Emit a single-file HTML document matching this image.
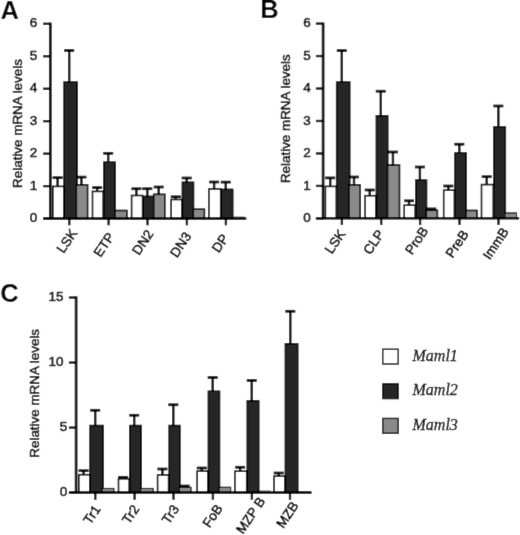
<!DOCTYPE html>
<html><head><meta charset="utf-8"><title>Figure</title>
<style>
html,body{margin:0;padding:0;background:#fff;}
body{width:520px;height:535px;overflow:hidden;font-family:"Liberation Sans",sans-serif;}
svg{display:block;font-family:"Liberation Sans",sans-serif;}
</style></head><body>
<svg width="520" height="535" viewBox="0 0 520 535">
<defs><filter id="soft" x="0" y="0" width="520" height="535" filterUnits="userSpaceOnUse"><feConvolveMatrix order="3" kernelMatrix="0 1 0 1 7 1 0 1 0" divisor="11" edgeMode="duplicate" preserveAlpha="true"/></filter></defs>
<rect x="0" y="0" width="520" height="535" fill="#ffffff"/>
<g filter="url(#soft)">
<rect x="0" y="0" width="520" height="535" fill="#ffffff"/>
<line x1="57.60" y1="186.70" x2="57.60" y2="177.70" stroke="#000000" stroke-width="2.4"/>
<line x1="52.60" y1="177.70" x2="62.60" y2="177.70" stroke="#000000" stroke-width="2.7"/>
<rect x="52.80" y="186.40" width="11.00" height="32.20" fill="#ffffff" stroke="#000000" stroke-width="1.6"/>
<line x1="69.20" y1="81.80" x2="69.20" y2="50.50" stroke="#000000" stroke-width="2.4"/>
<line x1="64.20" y1="50.50" x2="74.20" y2="50.50" stroke="#000000" stroke-width="2.7"/>
<rect x="64.10" y="82.10" width="13.00" height="136.50" fill="#272727" stroke="#000000" stroke-width="1.6"/>
<line x1="81.40" y1="185.10" x2="81.40" y2="177.10" stroke="#000000" stroke-width="2.4"/>
<line x1="76.40" y1="177.10" x2="86.40" y2="177.10" stroke="#000000" stroke-width="2.7"/>
<rect x="76.30" y="184.80" width="11.30" height="33.80" fill="#8a8a8a" stroke="#000000" stroke-width="1.6"/>
<line x1="97.15" y1="191.70" x2="97.15" y2="187.60" stroke="#000000" stroke-width="2.4"/>
<line x1="92.15" y1="187.60" x2="102.15" y2="187.60" stroke="#000000" stroke-width="2.7"/>
<rect x="92.50" y="191.40" width="10.70" height="27.20" fill="#ffffff" stroke="#000000" stroke-width="1.6"/>
<line x1="108.20" y1="161.90" x2="108.20" y2="153.30" stroke="#000000" stroke-width="2.4"/>
<line x1="103.20" y1="153.30" x2="113.20" y2="153.30" stroke="#000000" stroke-width="2.7"/>
<rect x="103.80" y="162.20" width="11.30" height="56.40" fill="#272727" stroke="#000000" stroke-width="1.6"/>
<rect x="114.90" y="210.50" width="12.00" height="8.10" fill="#8a8a8a" stroke="#000000" stroke-width="1.6"/>
<line x1="136.40" y1="195.80" x2="136.40" y2="188.75" stroke="#000000" stroke-width="2.4"/>
<line x1="131.40" y1="188.75" x2="141.40" y2="188.75" stroke="#000000" stroke-width="2.7"/>
<rect x="131.60" y="195.50" width="11.00" height="23.10" fill="#ffffff" stroke="#000000" stroke-width="1.6"/>
<line x1="147.30" y1="196.10" x2="147.30" y2="188.75" stroke="#000000" stroke-width="2.4"/>
<line x1="142.30" y1="188.75" x2="152.30" y2="188.75" stroke="#000000" stroke-width="2.7"/>
<rect x="143.20" y="196.40" width="10.70" height="22.20" fill="#272727" stroke="#000000" stroke-width="1.6"/>
<line x1="158.70" y1="194.60" x2="158.70" y2="187.00" stroke="#000000" stroke-width="2.4"/>
<line x1="153.70" y1="187.00" x2="163.70" y2="187.00" stroke="#000000" stroke-width="2.7"/>
<rect x="153.70" y="194.30" width="11.10" height="24.30" fill="#8a8a8a" stroke="#000000" stroke-width="1.6"/>
<line x1="175.75" y1="199.80" x2="175.75" y2="196.80" stroke="#000000" stroke-width="2.4"/>
<line x1="170.75" y1="196.80" x2="180.75" y2="196.80" stroke="#000000" stroke-width="2.7"/>
<rect x="171.10" y="199.50" width="10.70" height="19.10" fill="#ffffff" stroke="#000000" stroke-width="1.6"/>
<line x1="186.70" y1="182.00" x2="186.70" y2="178.00" stroke="#000000" stroke-width="2.4"/>
<line x1="181.70" y1="178.00" x2="191.70" y2="178.00" stroke="#000000" stroke-width="2.7"/>
<rect x="182.40" y="182.30" width="11.10" height="36.30" fill="#272727" stroke="#000000" stroke-width="1.6"/>
<rect x="193.30" y="209.20" width="11.10" height="9.40" fill="#8a8a8a" stroke="#000000" stroke-width="1.6"/>
<line x1="214.10" y1="189.25" x2="214.10" y2="182.00" stroke="#000000" stroke-width="2.4"/>
<line x1="209.10" y1="182.00" x2="219.10" y2="182.00" stroke="#000000" stroke-width="2.7"/>
<rect x="208.90" y="188.95" width="11.80" height="29.65" fill="#ffffff" stroke="#000000" stroke-width="1.6"/>
<line x1="225.75" y1="189.10" x2="225.75" y2="182.10" stroke="#000000" stroke-width="2.4"/>
<line x1="220.75" y1="182.10" x2="230.75" y2="182.10" stroke="#000000" stroke-width="2.7"/>
<rect x="221.30" y="189.40" width="11.40" height="29.20" fill="#272727" stroke="#000000" stroke-width="1.6"/>
<rect x="232.25" y="217.25" width="11.70" height="1.35" fill="#8a8a8a" stroke="#000000" stroke-width="1.1"/>
<line x1="50.3" y1="22.58" x2="50.3" y2="219.80" stroke="#000000" stroke-width="2.7"/>
<line x1="43.099999999999994" y1="218.6" x2="245.3" y2="218.6" stroke="#000000" stroke-width="2.5" />
<circle cx="245.3" cy="218.6" r="1.25" fill="#000000"/>
<line x1="43.10" y1="218.60" x2="50.3" y2="218.60" stroke="#000000" stroke-width="2.3"/>
<text x="37.2" y="222.20" text-anchor="end" font-size="13.5" fill="#000000" stroke="#000000" stroke-width="0.5">0</text>
<line x1="43.10" y1="186.13" x2="50.3" y2="186.13" stroke="#000000" stroke-width="2.3"/>
<text x="37.2" y="189.73" text-anchor="end" font-size="13.5" fill="#000000" stroke="#000000" stroke-width="0.5">1</text>
<line x1="43.10" y1="153.66" x2="50.3" y2="153.66" stroke="#000000" stroke-width="2.3"/>
<text x="37.2" y="157.26" text-anchor="end" font-size="13.5" fill="#000000" stroke="#000000" stroke-width="0.5">2</text>
<line x1="43.10" y1="121.19" x2="50.3" y2="121.19" stroke="#000000" stroke-width="2.3"/>
<text x="37.2" y="124.79" text-anchor="end" font-size="13.5" fill="#000000" stroke="#000000" stroke-width="0.5">3</text>
<line x1="43.10" y1="88.72" x2="50.3" y2="88.72" stroke="#000000" stroke-width="2.3"/>
<text x="37.2" y="92.32" text-anchor="end" font-size="13.5" fill="#000000" stroke="#000000" stroke-width="0.5">4</text>
<line x1="43.10" y1="56.25" x2="50.3" y2="56.25" stroke="#000000" stroke-width="2.3"/>
<text x="37.2" y="59.85" text-anchor="end" font-size="13.5" fill="#000000" stroke="#000000" stroke-width="0.5">5</text>
<line x1="43.10" y1="23.78" x2="50.3" y2="23.78" stroke="#000000" stroke-width="2.3"/>
<text x="37.2" y="27.38" text-anchor="end" font-size="13.5" fill="#000000" stroke="#000000" stroke-width="0.5">6</text>
<line x1="69.30" y1="218.6" x2="69.30" y2="225.29999999999998" stroke="#000000" stroke-width="2.3"/>
<text transform="translate(70.58,243.63) rotate(-56.0)" text-anchor="middle" font-size="13.4" fill="#000000" stroke="#000000" stroke-width="0.5">LSK</text>
<line x1="108.60" y1="218.6" x2="108.60" y2="225.29999999999998" stroke="#000000" stroke-width="2.3"/>
<text transform="translate(107.78,247.28) rotate(-56.0)" text-anchor="middle" font-size="13.4" fill="#000000" stroke="#000000" stroke-width="0.5">ETP</text>
<line x1="147.50" y1="218.6" x2="147.50" y2="225.29999999999998" stroke="#000000" stroke-width="2.3"/>
<text transform="translate(146.53,244.93) rotate(-56.0)" text-anchor="middle" font-size="13.4" fill="#000000" stroke="#000000" stroke-width="0.5">DN2</text>
<line x1="186.90" y1="218.6" x2="186.90" y2="225.29999999999998" stroke="#000000" stroke-width="2.3"/>
<text transform="translate(184.43,247.28) rotate(-56.0)" text-anchor="middle" font-size="13.4" fill="#000000" stroke="#000000" stroke-width="0.5">DN3</text>
<line x1="225.90" y1="218.6" x2="225.90" y2="225.29999999999998" stroke="#000000" stroke-width="2.3"/>
<text transform="translate(223.98,245.83) rotate(-56.0)" text-anchor="middle" font-size="13.4" fill="#000000" stroke="#000000" stroke-width="0.5">DP</text>
<text transform="translate(22.2,123.5) rotate(-90)" text-anchor="middle" font-size="13.4" fill="#000000" stroke="#000000" stroke-width="0.5">Relative mRNA levels</text>
<text x="0.5" y="18.6" font-size="25.5" font-weight="bold" fill="#000">A</text>
<line x1="330.20" y1="186.70" x2="330.20" y2="177.90" stroke="#000000" stroke-width="2.4"/>
<line x1="325.20" y1="177.90" x2="335.20" y2="177.90" stroke="#000000" stroke-width="2.7"/>
<rect x="325.40" y="186.40" width="11.00" height="31.90" fill="#ffffff" stroke="#000000" stroke-width="1.6"/>
<line x1="341.80" y1="81.80" x2="341.80" y2="50.60" stroke="#000000" stroke-width="2.4"/>
<line x1="336.80" y1="50.60" x2="346.80" y2="50.60" stroke="#000000" stroke-width="2.7"/>
<rect x="336.70" y="82.10" width="13.00" height="136.20" fill="#272727" stroke="#000000" stroke-width="1.6"/>
<line x1="354.00" y1="185.20" x2="354.00" y2="177.00" stroke="#000000" stroke-width="2.4"/>
<line x1="349.00" y1="177.00" x2="359.00" y2="177.00" stroke="#000000" stroke-width="2.7"/>
<rect x="348.90" y="184.90" width="11.30" height="33.40" fill="#8a8a8a" stroke="#000000" stroke-width="1.6"/>
<line x1="369.75" y1="196.00" x2="369.75" y2="190.00" stroke="#000000" stroke-width="2.4"/>
<line x1="364.75" y1="190.00" x2="374.75" y2="190.00" stroke="#000000" stroke-width="2.7"/>
<rect x="365.10" y="195.70" width="10.70" height="22.60" fill="#ffffff" stroke="#000000" stroke-width="1.6"/>
<line x1="380.80" y1="115.50" x2="380.80" y2="91.20" stroke="#000000" stroke-width="2.4"/>
<line x1="375.80" y1="91.20" x2="385.80" y2="91.20" stroke="#000000" stroke-width="2.7"/>
<rect x="376.40" y="115.80" width="11.30" height="102.50" fill="#272727" stroke="#000000" stroke-width="1.6"/>
<line x1="392.95" y1="165.30" x2="392.95" y2="152.00" stroke="#000000" stroke-width="2.4"/>
<line x1="387.95" y1="152.00" x2="397.95" y2="152.00" stroke="#000000" stroke-width="2.7"/>
<rect x="387.50" y="165.00" width="12.00" height="53.30" fill="#8a8a8a" stroke="#000000" stroke-width="1.6"/>
<line x1="409.00" y1="205.50" x2="409.00" y2="200.80" stroke="#000000" stroke-width="2.4"/>
<line x1="404.00" y1="200.80" x2="414.00" y2="200.80" stroke="#000000" stroke-width="2.7"/>
<rect x="404.20" y="205.20" width="11.00" height="13.10" fill="#ffffff" stroke="#000000" stroke-width="1.6"/>
<line x1="419.90" y1="179.80" x2="419.90" y2="167.00" stroke="#000000" stroke-width="2.4"/>
<line x1="414.90" y1="167.00" x2="424.90" y2="167.00" stroke="#000000" stroke-width="2.7"/>
<rect x="415.80" y="180.10" width="10.70" height="38.20" fill="#272727" stroke="#000000" stroke-width="1.6"/>
<line x1="431.30" y1="210.60" x2="431.30" y2="208.90" stroke="#000000" stroke-width="2.4"/>
<line x1="426.30" y1="208.90" x2="436.30" y2="208.90" stroke="#000000" stroke-width="2.7"/>
<rect x="426.30" y="210.30" width="11.10" height="8.00" fill="#8a8a8a" stroke="#000000" stroke-width="1.6"/>
<line x1="448.35" y1="190.50" x2="448.35" y2="186.00" stroke="#000000" stroke-width="2.4"/>
<line x1="443.35" y1="186.00" x2="453.35" y2="186.00" stroke="#000000" stroke-width="2.7"/>
<rect x="443.70" y="190.20" width="10.70" height="28.10" fill="#ffffff" stroke="#000000" stroke-width="1.6"/>
<line x1="459.30" y1="152.70" x2="459.30" y2="144.20" stroke="#000000" stroke-width="2.4"/>
<line x1="454.30" y1="144.20" x2="464.30" y2="144.20" stroke="#000000" stroke-width="2.7"/>
<rect x="455.00" y="153.00" width="11.10" height="65.30" fill="#272727" stroke="#000000" stroke-width="1.6"/>
<rect x="465.90" y="210.45" width="11.10" height="7.85" fill="#8a8a8a" stroke="#000000" stroke-width="1.6"/>
<line x1="486.70" y1="184.90" x2="486.70" y2="176.70" stroke="#000000" stroke-width="2.4"/>
<line x1="481.70" y1="176.70" x2="491.70" y2="176.70" stroke="#000000" stroke-width="2.7"/>
<rect x="481.50" y="184.60" width="11.80" height="33.70" fill="#ffffff" stroke="#000000" stroke-width="1.6"/>
<line x1="498.35" y1="126.70" x2="498.35" y2="106.00" stroke="#000000" stroke-width="2.4"/>
<line x1="493.35" y1="106.00" x2="503.35" y2="106.00" stroke="#000000" stroke-width="2.7"/>
<rect x="493.90" y="127.00" width="11.40" height="91.30" fill="#272727" stroke="#000000" stroke-width="1.6"/>
<rect x="504.85" y="212.95" width="11.70" height="5.35" fill="#8a8a8a" stroke="#000000" stroke-width="1.1"/>
<line x1="323.1" y1="22.58" x2="323.1" y2="219.50" stroke="#000000" stroke-width="2.7"/>
<line x1="315.90000000000003" y1="218.29999999999998" x2="518" y2="218.29999999999998" stroke="#000000" stroke-width="2.5" />
<circle cx="518" cy="218.29999999999998" r="1.25" fill="#000000"/>
<line x1="315.90" y1="218.40" x2="323.1" y2="218.40" stroke="#000000" stroke-width="2.3"/>
<text x="310.8" y="222.00" text-anchor="end" font-size="13.5" fill="#000000" stroke="#000000" stroke-width="0.5">0</text>
<line x1="315.90" y1="185.93" x2="323.1" y2="185.93" stroke="#000000" stroke-width="2.3"/>
<text x="310.8" y="189.53" text-anchor="end" font-size="13.5" fill="#000000" stroke="#000000" stroke-width="0.5">1</text>
<line x1="315.90" y1="153.46" x2="323.1" y2="153.46" stroke="#000000" stroke-width="2.3"/>
<text x="310.8" y="157.06" text-anchor="end" font-size="13.5" fill="#000000" stroke="#000000" stroke-width="0.5">2</text>
<line x1="315.90" y1="120.99" x2="323.1" y2="120.99" stroke="#000000" stroke-width="2.3"/>
<text x="310.8" y="124.59" text-anchor="end" font-size="13.5" fill="#000000" stroke="#000000" stroke-width="0.5">3</text>
<line x1="315.90" y1="88.52" x2="323.1" y2="88.52" stroke="#000000" stroke-width="2.3"/>
<text x="310.8" y="92.12" text-anchor="end" font-size="13.5" fill="#000000" stroke="#000000" stroke-width="0.5">4</text>
<line x1="315.90" y1="56.05" x2="323.1" y2="56.05" stroke="#000000" stroke-width="2.3"/>
<text x="310.8" y="59.65" text-anchor="end" font-size="13.5" fill="#000000" stroke="#000000" stroke-width="0.5">5</text>
<line x1="315.90" y1="23.58" x2="323.1" y2="23.58" stroke="#000000" stroke-width="2.3"/>
<text x="310.8" y="27.18" text-anchor="end" font-size="13.5" fill="#000000" stroke="#000000" stroke-width="0.5">6</text>
<line x1="341.90" y1="218.29999999999998" x2="341.90" y2="224.99999999999997" stroke="#000000" stroke-width="2.3"/>
<text transform="translate(338.88,244.28) rotate(-56.0)" text-anchor="middle" font-size="13.4" fill="#000000" stroke="#000000" stroke-width="0.5">LSK</text>
<line x1="381.20" y1="218.29999999999998" x2="381.20" y2="224.99999999999997" stroke="#000000" stroke-width="2.3"/>
<text transform="translate(377.48,244.68) rotate(-56.0)" text-anchor="middle" font-size="13.4" fill="#000000" stroke="#000000" stroke-width="0.5">CLP</text>
<line x1="420.10" y1="218.29999999999998" x2="420.10" y2="224.99999999999997" stroke="#000000" stroke-width="2.3"/>
<text transform="translate(420.43,243.18) rotate(-56.0)" text-anchor="middle" font-size="13.4" fill="#000000" stroke="#000000" stroke-width="0.5">ProB</text>
<line x1="459.50" y1="218.29999999999998" x2="459.50" y2="224.99999999999997" stroke="#000000" stroke-width="2.3"/>
<text transform="translate(460.83,246.43) rotate(-56.0)" text-anchor="middle" font-size="13.4" fill="#000000" stroke="#000000" stroke-width="0.5">PreB</text>
<line x1="498.50" y1="218.29999999999998" x2="498.50" y2="224.99999999999997" stroke="#000000" stroke-width="2.3"/>
<text transform="translate(499.48,245.98) rotate(-56.0)" text-anchor="middle" font-size="13.4" fill="#000000" stroke="#000000" stroke-width="0.5">ImmB</text>
<text transform="translate(290.3,118.7) rotate(-90)" text-anchor="middle" font-size="13.4" fill="#000000" stroke="#000000" stroke-width="0.5">Relative mRNA levels</text>
<text x="260.3" y="18.2" font-size="25.5" font-weight="bold" fill="#000">B</text>
<line x1="83.60" y1="475.00" x2="83.60" y2="470.70" stroke="#000000" stroke-width="2.4"/>
<line x1="78.60" y1="470.70" x2="88.60" y2="470.70" stroke="#000000" stroke-width="2.7"/>
<rect x="78.80" y="474.70" width="11.00" height="17.90" fill="#ffffff" stroke="#000000" stroke-width="1.6"/>
<line x1="95.20" y1="425.25" x2="95.20" y2="410.25" stroke="#000000" stroke-width="2.4"/>
<line x1="90.20" y1="410.25" x2="100.20" y2="410.25" stroke="#000000" stroke-width="2.7"/>
<rect x="90.10" y="425.55" width="13.00" height="67.05" fill="#272727" stroke="#000000" stroke-width="1.6"/>
<rect x="102.05" y="488.45" width="11.80" height="4.15" fill="#8a8a8a" stroke="#000000" stroke-width="1.1"/>
<line x1="123.15" y1="479.10" x2="123.15" y2="477.30" stroke="#000000" stroke-width="2.4"/>
<line x1="118.15" y1="477.30" x2="128.15" y2="477.30" stroke="#000000" stroke-width="2.7"/>
<rect x="118.50" y="478.80" width="10.70" height="13.80" fill="#ffffff" stroke="#000000" stroke-width="1.6"/>
<line x1="134.20" y1="425.25" x2="134.20" y2="415.25" stroke="#000000" stroke-width="2.4"/>
<line x1="129.20" y1="415.25" x2="139.20" y2="415.25" stroke="#000000" stroke-width="2.7"/>
<rect x="129.80" y="425.55" width="11.30" height="67.05" fill="#272727" stroke="#000000" stroke-width="1.6"/>
<rect x="140.65" y="488.45" width="12.50" height="4.15" fill="#8a8a8a" stroke="#000000" stroke-width="1.1"/>
<line x1="162.40" y1="475.25" x2="162.40" y2="469.00" stroke="#000000" stroke-width="2.4"/>
<line x1="157.40" y1="469.00" x2="167.40" y2="469.00" stroke="#000000" stroke-width="2.7"/>
<rect x="157.60" y="474.95" width="11.00" height="17.65" fill="#ffffff" stroke="#000000" stroke-width="1.6"/>
<line x1="173.30" y1="425.25" x2="173.30" y2="404.75" stroke="#000000" stroke-width="2.4"/>
<line x1="168.30" y1="404.75" x2="178.30" y2="404.75" stroke="#000000" stroke-width="2.7"/>
<rect x="169.20" y="425.55" width="10.70" height="67.05" fill="#272727" stroke="#000000" stroke-width="1.6"/>
<line x1="184.70" y1="487.90" x2="184.70" y2="486.00" stroke="#000000" stroke-width="2.4"/>
<line x1="179.70" y1="486.00" x2="189.70" y2="486.00" stroke="#000000" stroke-width="2.7"/>
<rect x="179.45" y="487.35" width="11.60" height="5.25" fill="#8a8a8a" stroke="#000000" stroke-width="1.1"/>
<line x1="201.75" y1="471.50" x2="201.75" y2="468.00" stroke="#000000" stroke-width="2.4"/>
<line x1="196.75" y1="468.00" x2="206.75" y2="468.00" stroke="#000000" stroke-width="2.7"/>
<rect x="197.10" y="471.20" width="10.70" height="21.40" fill="#ffffff" stroke="#000000" stroke-width="1.6"/>
<line x1="212.70" y1="391.00" x2="212.70" y2="377.50" stroke="#000000" stroke-width="2.4"/>
<line x1="207.70" y1="377.50" x2="217.70" y2="377.50" stroke="#000000" stroke-width="2.7"/>
<rect x="208.40" y="391.30" width="11.10" height="101.30" fill="#272727" stroke="#000000" stroke-width="1.6"/>
<rect x="219.05" y="487.25" width="11.60" height="5.35" fill="#8a8a8a" stroke="#000000" stroke-width="1.1"/>
<line x1="240.10" y1="471.50" x2="240.10" y2="467.25" stroke="#000000" stroke-width="2.4"/>
<line x1="235.10" y1="467.25" x2="245.10" y2="467.25" stroke="#000000" stroke-width="2.7"/>
<rect x="234.90" y="471.20" width="11.80" height="21.40" fill="#ffffff" stroke="#000000" stroke-width="1.6"/>
<line x1="251.75" y1="400.50" x2="251.75" y2="380.50" stroke="#000000" stroke-width="2.4"/>
<line x1="246.75" y1="380.50" x2="256.75" y2="380.50" stroke="#000000" stroke-width="2.7"/>
<rect x="247.30" y="400.80" width="11.40" height="91.80" fill="#272727" stroke="#000000" stroke-width="1.6"/>
<rect x="258.25" y="491.25" width="11.70" height="1.35" fill="#8a8a8a" stroke="#000000" stroke-width="1.1"/>
<line x1="278.70" y1="476.50" x2="278.70" y2="473.00" stroke="#000000" stroke-width="2.4"/>
<line x1="273.70" y1="473.00" x2="283.70" y2="473.00" stroke="#000000" stroke-width="2.7"/>
<rect x="274.00" y="476.20" width="10.80" height="16.40" fill="#ffffff" stroke="#000000" stroke-width="1.6"/>
<line x1="290.30" y1="343.50" x2="290.30" y2="311.25" stroke="#000000" stroke-width="2.4"/>
<line x1="285.30" y1="311.25" x2="295.30" y2="311.25" stroke="#000000" stroke-width="2.7"/>
<rect x="285.40" y="343.80" width="12.30" height="148.80" fill="#272727" stroke="#000000" stroke-width="1.6"/>
<rect x="297.25" y="491.55" width="12.20" height="1.05" fill="#8a8a8a" stroke="#000000" stroke-width="1.1"/>
<line x1="76.1" y1="296.32" x2="76.1" y2="493.80" stroke="#000000" stroke-width="2.7"/>
<line x1="68.89999999999999" y1="492.6" x2="310.6" y2="492.6" stroke="#000000" stroke-width="2.5" />
<circle cx="310.6" cy="492.6" r="1.25" fill="#000000"/>
<line x1="68.90" y1="492.60" x2="76.1" y2="492.60" stroke="#000000" stroke-width="2.3"/>
<text x="67.2" y="496.20" text-anchor="end" font-size="13.5" fill="#000000" stroke="#000000" stroke-width="0.5">0</text>
<line x1="68.90" y1="427.58" x2="76.1" y2="427.58" stroke="#000000" stroke-width="2.3"/>
<text x="67.2" y="431.18" text-anchor="end" font-size="13.5" fill="#000000" stroke="#000000" stroke-width="0.5">5</text>
<line x1="68.90" y1="362.55" x2="76.1" y2="362.55" stroke="#000000" stroke-width="2.3"/>
<text x="63.6" y="366.15" text-anchor="end" font-size="13.5" fill="#000000" stroke="#000000" stroke-width="0.5">10</text>
<line x1="68.90" y1="297.52" x2="76.1" y2="297.52" stroke="#000000" stroke-width="2.3"/>
<text x="63.6" y="301.12" text-anchor="end" font-size="13.5" fill="#000000" stroke="#000000" stroke-width="0.5">15</text>
<line x1="95.30" y1="492.6" x2="95.30" y2="499.8" stroke="#000000" stroke-width="2.3"/>
<text transform="translate(95.63,517.13) rotate(-56.0)" text-anchor="middle" font-size="13.4" fill="#000000" stroke="#000000" stroke-width="0.5">Tr1</text>
<line x1="134.60" y1="492.6" x2="134.60" y2="499.8" stroke="#000000" stroke-width="2.3"/>
<text transform="translate(134.53,516.88) rotate(-56.0)" text-anchor="middle" font-size="13.4" fill="#000000" stroke="#000000" stroke-width="0.5">Tr2</text>
<line x1="173.50" y1="492.6" x2="173.50" y2="499.8" stroke="#000000" stroke-width="2.3"/>
<text transform="translate(174.23,516.88) rotate(-56.0)" text-anchor="middle" font-size="13.4" fill="#000000" stroke="#000000" stroke-width="0.5">Tr3</text>
<line x1="212.90" y1="492.6" x2="212.90" y2="499.8" stroke="#000000" stroke-width="2.3"/>
<text transform="translate(216.28,518.43) rotate(-56.0)" text-anchor="middle" font-size="13.4" fill="#000000" stroke="#000000" stroke-width="0.5">FoB</text>
<line x1="251.90" y1="492.6" x2="251.90" y2="499.8" stroke="#000000" stroke-width="2.3"/>
<text transform="translate(265.80,500.97) rotate(-56.0)" text-anchor="end" font-size="13.4" fill="#000000" stroke="#000000" stroke-width="0.5">MZP B</text>
<line x1="290.00" y1="492.6" x2="290.00" y2="499.8" stroke="#000000" stroke-width="2.3"/>
<text transform="translate(291.08,517.28) rotate(-56.0)" text-anchor="middle" font-size="13.4" fill="#000000" stroke="#000000" stroke-width="0.5">MZB</text>
<text transform="translate(38.9,393.3) rotate(-90)" text-anchor="middle" font-size="13.4" fill="#000000" stroke="#000000" stroke-width="0.5">Relative mRNA levels</text>
<text x="0.2" y="301.8" font-size="25.5" font-weight="bold" fill="#000">C</text>
<rect x="382.8" y="349.20" width="15.4" height="14.8" fill="#ffffff" stroke="#000000" stroke-width="1.35"/>
<text x="412.5" y="360.80" font-family="Liberation Serif, serif" font-style="italic" font-size="16" fill="#000" stroke="#000" stroke-width="0.3">Maml1</text>
<rect x="382.8" y="383.80" width="15.4" height="14.8" fill="#272727" stroke="#000000" stroke-width="1.35"/>
<text x="412.5" y="395.40" font-family="Liberation Serif, serif" font-style="italic" font-size="16" fill="#000" stroke="#000" stroke-width="0.3">Maml2</text>
<rect x="382.8" y="418.40" width="15.4" height="14.8" fill="#8a8a8a" stroke="#000000" stroke-width="1.35"/>
<text x="412.5" y="430.00" font-family="Liberation Serif, serif" font-style="italic" font-size="16" fill="#000" stroke="#000" stroke-width="0.3">Maml3</text>
</g>
</svg>
</body></html>
